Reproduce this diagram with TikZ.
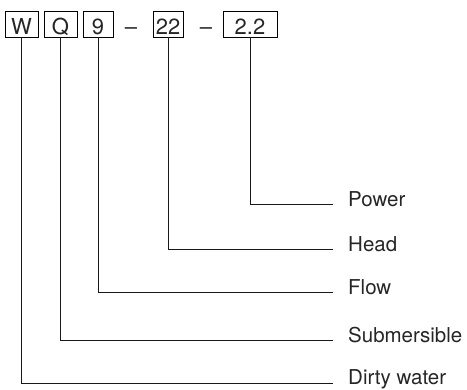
\documentclass[tikz,border=0pt]{standalone}
\usepackage{fontspec}
\setmainfont{TeX Gyre Heros}
\usepackage{tikz}
\usetikzlibrary{positioning}

\tikzset{
  codebox/.style={draw, line width=0.8pt, minimum height=26pt, inner sep=0pt, text height=22pt, text depth=0pt, font=\fontsize{22}{24}\selectfont, text=black!85},
  joiner/.style={anchor=base, inner sep=0pt, font=\fontsize{22}{24}\selectfont, text=black!85},
  meaning/.style={anchor=base west, inner sep=0pt, font=\fontsize{20.5}{22}\selectfont, text=black!85},
  leader/.style={line width=0.8pt, draw=black!90}
}

\begin{document}
\begin{tikzpicture}[x=1pt,y=-1pt]
\useasboundingbox (0,0) rectangle (467,390);
\node[codebox, minimum width=33pt] (W) at (21.5,24) {W};
\node[codebox, minimum width=33pt] (Q) at (60.5,24) {Q};
\node[codebox, minimum width=30pt] (N) at (98,24) {9};
\node[joiner] (D1) at (131,35) {–};
\node[codebox, minimum width=30pt] (H) at (168,24) {22};
\node[joiner] (D2) at (206,35) {–};
\node[codebox, minimum width=54pt] (P) at (250,24) {2.2};
\node[meaning] (power) at (348,206.5) {Power};
\node[meaning] (head) at (348,251.5) {Head};
\node[meaning] (flow) at (348,294.5) {Flow};
\node[meaning] (sub) at (348,342.5) {Submersible};
\node[meaning] (dirty) at (348,385) {Dirty water};
\coordinate (cP) at (333,204);
\coordinate (cH) at (333,249);
\coordinate (cF) at (333,292);
\coordinate (cS) at (333,340);
\coordinate (cD) at (333,383);
\draw[leader] (P.south) |- (cP);
\draw[leader] (H.south) |- (cH);
\draw[leader] (N.south) |- (cF);
\draw[leader] (Q.south) |- (cS);
\draw[leader] (W.south) |- (cD);
\end{tikzpicture}
\end{document}
